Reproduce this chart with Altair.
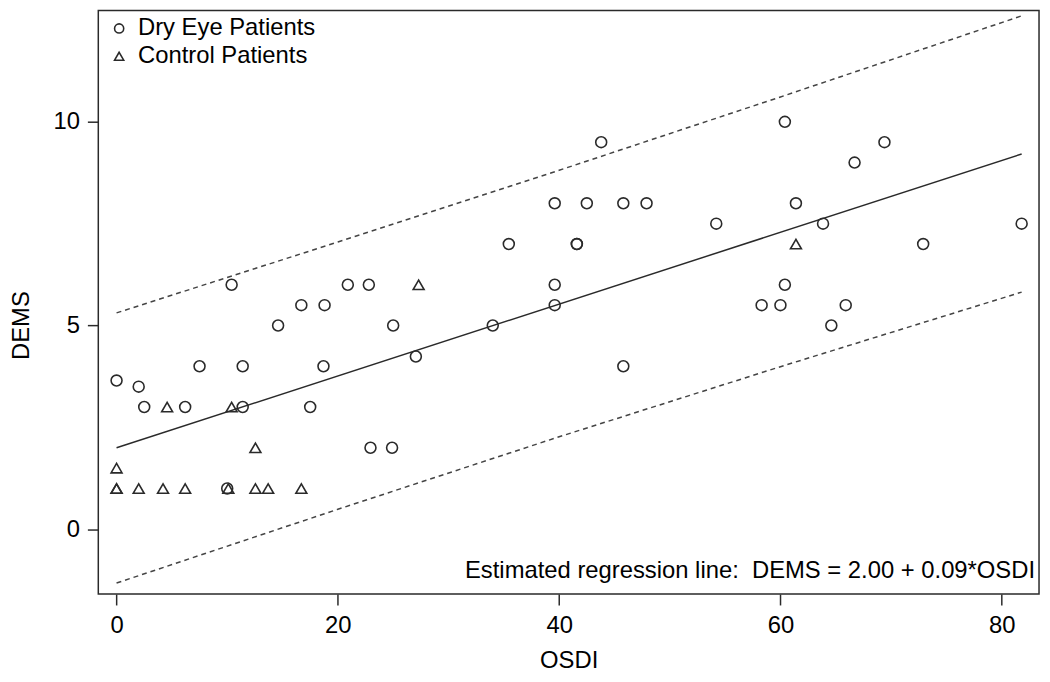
import altair as alt
import pandas as pd

# Dry eye patients (OSDI, DEMS)
dry_osdi = [0, 2.0, 2.5, 6.2, 11.4, 17.5, 7.5, 11.4, 18.7, 10.4, 14.6, 16.7, 18.8,
            20.9, 22.8, 22.95, 24.9, 10.0, 25.0, 27.05, 34.0, 35.45, 39.6, 39.6, 39.6,
            41.6, 41.6, 42.5, 43.8, 45.8, 45.8, 47.9, 54.2, 58.3, 60.0, 60.4, 60.4,
            61.4, 63.85, 64.6, 65.9, 66.7, 69.4, 72.9, 81.8]
dry_dems = [3.65, 3.5, 3, 3, 3, 3, 4, 4, 4, 6, 5, 5.5, 5.5,
            6, 6, 2, 2, 1, 5, 4.24, 5, 7, 8, 6, 5.5,
            7, 7, 8, 9.5, 8, 4, 8, 7.5, 5.5, 5.5, 6, 10,
            8, 7.5, 5, 5.5, 9, 9.5, 7, 7.5]

# Control patients (OSDI, DEMS)
ctl_osdi = [0, 0, 0, 2.0, 4.2, 4.57, 6.2, 10.1, 10.4, 12.55, 12.55, 13.7, 16.7, 27.3, 61.4]
ctl_dems = [1, 1, 1.5, 1, 1, 3, 1, 1, 3, 2, 1, 1, 1, 6, 7]

groups = ["Dry Eye Patients", "Control Patients"]

# Regression line end points
reg_osdi = [0, 81.8]
reg_dems = [2.00, 9.21]

# Prediction band
band_osdi = [0, 20, 40, 60, 81.8]
upper_dems = [5.31, 7.05, 8.81, 10.61, 12.6]
lower_dems = [-1.32, 0.49, 2.27, 3.99, 5.82]

annotation = ["Estimated regression line:\u00a0 DEMS = 2.00 + 0.09*OSDI"]

FONT = "Liberation Sans"
INK = "#2a2a2a"
FS = 24

pts = pd.DataFrame({
    "OSDI": dry_osdi + ctl_osdi,
    "DEMS": dry_dems + ctl_dems,
    "group": [groups[0]] * len(dry_osdi) + [groups[1]] * len(ctl_osdi),
})
reg = pd.DataFrame({"OSDI": reg_osdi, "DEMS": reg_dems})
band = pd.DataFrame({
    "OSDI": band_osdi + band_osdi,
    "DEMS": upper_dems + lower_dems,
    "side": ["upper"] * len(band_osdi) + ["lower"] * len(band_osdi),
})
ann = pd.DataFrame({"t": annotation})

xscale = alt.Scale(domain=[-1.65, 83.37], nice=False, zero=False)
yscale = alt.Scale(domain=[-1.59, 12.73], nice=False, zero=False)

xaxis = alt.Axis(values=[0, 20, 40, 60, 80], title="OSDI", titleY=67,
                 titleBaseline="middle", labelPadding=9)
yaxis = alt.Axis(values=[0, 5, 10], title="DEMS", titleX=-77, titleY=317,
                 titleAngle=-90, titleBaseline="middle", titleAlign="center",
                 labelPadding=8)

points = alt.Chart(pts).mark_point(filled=False, size=121, strokeWidth=1.6, color=INK, opacity=1).encode(
    x=alt.X("OSDI:Q", scale=xscale, axis=xaxis),
    y=alt.Y("DEMS:Q", scale=yscale, axis=yaxis),
    shape=alt.Shape("group:N",
                    scale=alt.Scale(domain=groups, range=["circle", "triangle-up"]),
                    legend=alt.Legend(title=None, orient="none", legendX=9, legendY=6,
                                      padding=0, labelFontSize=FS, labelFont=FONT,
                                      labelColor="black", labelOffset=7, rowPadding=4,
                                      labelLimit=0,
                                      symbolSize=85, symbolStrokeWidth=1.6,
                                      symbolStrokeColor=INK, symbolFillColor="transparent")),
)

regline = alt.Chart(reg).mark_line(color=INK, strokeWidth=1.5).encode(
    x=alt.X("OSDI:Q", scale=xscale),
    y=alt.Y("DEMS:Q", scale=yscale),
)

bands = alt.Chart(band).mark_line(color="#444444", strokeWidth=1.5, strokeDash=[5, 4]).encode(
    x=alt.X("OSDI:Q", scale=xscale),
    y=alt.Y("DEMS:Q", scale=yscale),
    detail="side:N",
)

text = alt.Chart(ann).mark_text(align="right", baseline="middle", fontSize=FS,
                                font=FONT, color="black").encode(
    text="t:N",
    x=alt.value(944),
    y=alt.value(565),
)

chart = alt.layer(bands, regline, points, text).properties(
    width=948, height=588,
    autosize="none",
    padding={"left": 91, "top": 0, "right": 3, "bottom": 80},
).configure_view(
    stroke=INK, strokeWidth=1.5,
).configure_axis(
    grid=False, domain=False, ticks=True, tickSize=11, tickColor=INK, tickWidth=1.5,
    labelFontSize=FS, labelFont=FONT, labelColor="black",
    titleFontSize=FS, titleFont=FONT, titleColor="black", titleFontWeight="normal",
)

chart.save("out.html", embed_options={"renderer": "svg", "actions": False})
